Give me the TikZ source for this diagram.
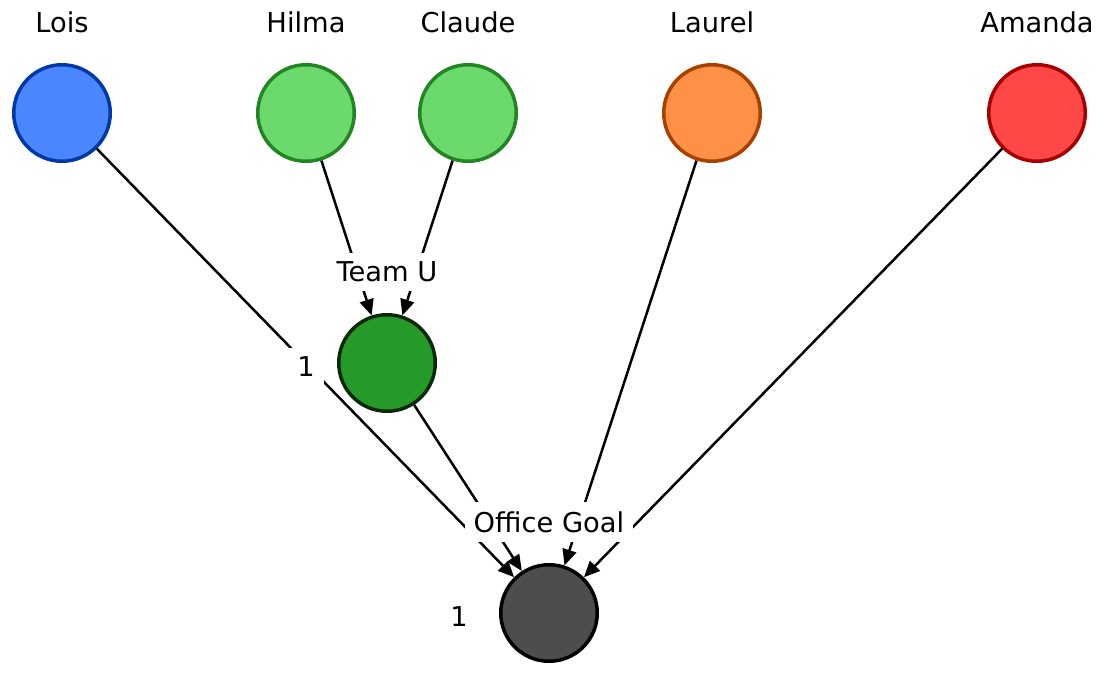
\documentclass[tikz,border=0pt]{standalone}
\usepackage{fontspec}
\setmainfont{DejaVu Sans}
\usetikzlibrary{arrows.meta}
\definecolor{loisfill}{RGB}{74,134,255}
\definecolor{loisdraw}{RGB}{0,56,166}
\definecolor{greenfill}{RGB}{107,217,107}
\definecolor{greendraw}{RGB}{34,132,34}
\definecolor{teamfill}{RGB}{38,154,41}
\definecolor{teamdraw}{RGB}{13,40,13}
\definecolor{orangefill}{RGB}{255,145,71}
\definecolor{orangedraw}{RGB}{166,66,0}
\definecolor{redfill}{RGB}{255,71,71}
\definecolor{reddraw}{RGB}{166,0,0}
\definecolor{grayfill}{RGB}{77,77,77}
\tikzset{
  person/.style={circle, line width=3.5pt, minimum size=96.5pt, inner sep=0pt},
  txt/.style={font=\fontsize{27.3}{32}\selectfont, inner sep=0pt},
  lab/.style={font=\fontsize{27.3}{32}\selectfont, fill=white, inner xsep=9pt, inner ysep=9pt},
  edge/.style={line width=2.5pt, -{Triangle[length=16pt,width=14pt]}},
}
\begin{document}
\begin{tikzpicture}[x=1pt,y=-1pt]
\useasboundingbox (0,0) rectangle (1102,677);
% coordinates of circle nodes
\node[person] (lois) at (62,113) {};
\node[person] (hilma) at (306,113) {};
\node[person] (claude) at (468,113) {};
\node[person] (laurel) at (712,113) {};
\node[person] (amanda) at (1037,113) {};
\node[person] (team) at (387,363) {};
\node[person] (office) at (549,613) {};
% edges
\draw[edge] (lois) -- (office);
\draw[edge] (hilma) -- (team);
\draw[edge] (claude) -- (team);
\draw[edge] (team) -- (office);
\draw[edge] (laurel) -- (office);
\draw[edge] (amanda) -- (office);
% labels with white background
\node[lab] (teamlab) at (387,272) {Team U};
\node[lab] (officelab) at (549,522) {Office Goal};
\node[lab] (teamw) at (306,367) {1};
\node[lab] (officew) at (459,617) {1};
% circles on top
\node[person, fill=loisfill, draw=loisdraw] at (lois) {};
\node[person, fill=greenfill, draw=greendraw] at (hilma) {};
\node[person, fill=greenfill, draw=greendraw] at (claude) {};
\node[person, fill=orangefill, draw=orangedraw] at (laurel) {};
\node[person, fill=redfill, draw=reddraw] at (amanda) {};
\node[person, fill=teamfill, draw=teamdraw] at (team) {};
\node[person, fill=grayfill, draw=black] at (office) {};
% names
\node[txt] (nlois) at (62,22) {Lois};
\node[txt] (nhilma) at (306,22) {Hilma};
\node[txt] (nclaude) at (468,22) {Claude};
\node[txt] (nlaurel) at (712,22) {Laurel};
\node[txt] (namanda) at (1037,22) {Amanda};
\end{tikzpicture}
\end{document}
